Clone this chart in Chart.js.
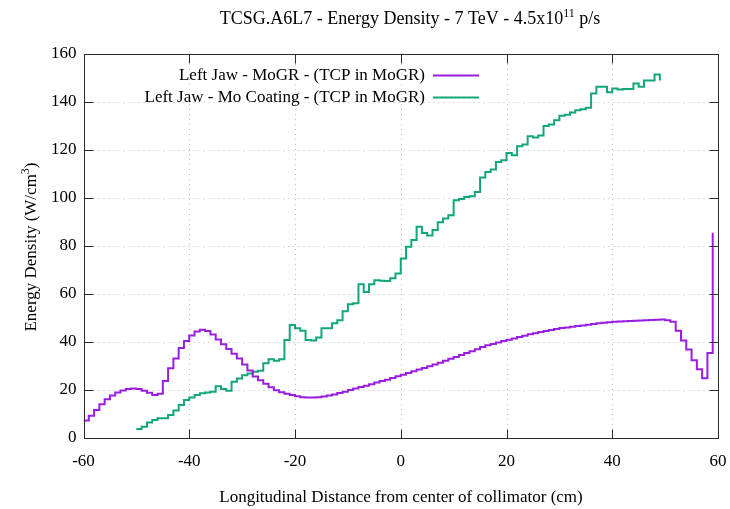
<!DOCTYPE html>
<html>
<head>
<meta charset="utf-8">
<script src="https://cdn.jsdelivr.net/npm/chart.js@4.4.0/dist/chart.umd.min.js"></script>
<style>
  html, body { margin: 0; padding: 0; background: #fff; }
</style>
</head>
<body>
<canvas id="energyChart" width="730" height="509"></canvas>
<script>
// bin start positions along the jaw (cm)
const mogrPos = [
  -60, -59, -58, -57, -56, -55, -54, -53, -52, -51,
  -50, -49, -48, -47, -46, -45, -44, -43, -42, -41,
  -40, -39, -38, -37, -36, -35, -34, -33, -32, -31,
  -30, -29, -28, -27, -26, -25, -24, -23, -22, -21,
  -20, -19, -18, -17, -16, -15, -14, -13, -12, -11,
  -10, -9, -8, -7, -6, -5, -4, -3, -2, -1,
  0, 1, 2, 3, 4, 5, 6, 7, 8, 9,
  10, 11, 12, 13, 14, 15, 16, 17, 18, 19,
  20, 21, 22, 23, 24, 25, 26, 27, 28, 29,
  30, 31, 32, 33, 34, 35, 36, 37, 38, 39,
  40, 41, 42, 43, 44, 45, 46, 47, 48, 49,
  50, 51, 52, 53, 54, 55, 56, 57, 58, 59
];
// energy density, MoGR jaw (W/cm3)
const mogrVal = [
  7.2, 9.2, 11.5, 14, 16, 17.6, 18.8, 19.7, 20.3, 20.5,
  20.3, 19.6, 18.7, 17.8, 18.3, 23.6, 29, 33, 37.4, 40.3,
  42.6, 44.3, 45, 44.5, 43, 41, 39, 37, 35, 33,
  30.5, 28, 25.5, 24, 22.5, 21, 19.8, 19, 18.3, 17.8,
  17.3, 16.9, 16.8, 16.8, 16.9, 17.2, 17.6, 18, 18.6, 19.2,
  19.9, 20.5, 21.1, 21.7, 22.3, 23, 23.6, 24.2, 24.9, 25.6,
  26.3, 27, 27.7, 28.4, 29.1, 29.8, 30.5, 31.3, 32.1, 32.9,
  33.7, 34.5, 35.3, 36.1, 36.9, 37.8, 38.5, 39.1, 39.7, 40.3,
  40.8, 41.4, 42, 42.5, 43.1, 43.6, 44.1, 44.5, 44.9, 45.3,
  45.7, 46, 46.3, 46.6, 46.8, 47.1, 47.4, 47.7, 47.9, 48.1,
  48.3, 48.5, 48.6, 48.7, 48.8, 48.9, 49, 49.1, 49.2, 49.3,
  49, 48.4, 44.6, 40.5, 36.8, 32.3, 28.5, 24.8, 35.3, 85.5
];
const coatPos = [
  -50, -49, -48, -47, -46, -45, -44, -43, -42, -41,
  -40, -39, -38, -37, -36, -35, -34, -33, -32, -31,
  -30, -29, -28, -27, -26, -25, -24, -23, -22, -21,
  -20, -19, -18, -17, -16, -15, -14, -13, -12, -11,
  -10, -9, -8, -7, -6, -5, -4, -3, -2, -1,
  0, 1, 2, 3, 4, 5, 6, 7, 8, 9,
  10, 11, 12, 13, 14, 15, 16, 17, 18, 19,
  20, 21, 22, 23, 24, 25, 26, 27, 28, 29,
  30, 31, 32, 33, 34, 35, 36, 37, 38, 39,
  40, 41, 42, 43, 44, 45, 46, 47, 48, 49
];
// energy density, Mo coating (W/cm3)
const coatVal = [
  3.6, 4.6, 6.3, 7.4, 8.1, 8.1, 9.5, 11.3, 13.6, 15.7,
  16.8, 17.8, 18.5, 18.8, 19.2, 21.5, 20.3, 19.6, 23.3, 24.7,
  26, 26.8, 27.5, 27.9, 31, 32.7, 32.1, 32.7, 40.7, 47,
  45.6, 44.6, 40.7, 40.5, 41.8, 45.6, 45.6, 47.7, 49, 52.7,
  55.6, 56.1, 64, 60.8, 64, 65.7, 65.4, 65.3, 66.5, 68.5,
  74.7, 79.6, 82.4, 88, 85.4, 84.3, 86.6, 89.8, 91.4, 92.8,
  99, 99.5, 100.4, 100.7, 102.5, 108.5, 110.8, 111.8, 115, 115.7,
  118.7, 117.8, 121.5, 122.3, 125.7, 125.2, 126, 130, 130.6, 132.4,
  134.2, 134.7, 135.6, 136.5, 137, 137.6, 143.5, 146.3, 146.3, 144.1,
  145.6, 145.2, 145.4, 145.4, 147.7, 146.3, 149, 149, 151.4, 149
];

const xTicks = [-60, -40, -20, 0, 20, 40, 60];
const yTicks = [0, 20, 40, 60, 80, 100, 120, 140, 160];
const seriesNames = [
  "Left Jaw - MoGR - (TCP in MoGR)",
  "Left Jaw - Mo Coating - (TCP in MoGR)"
];
const seriesColors = ["#9a1ee0", "#13a67b"];

const FONT = "Liberation Serif";
const canvas = document.getElementById("energyChart");

// draws a run of text pieces, some raised as superscripts
const richWidth = (c, parts, size) => {
  let w = 0;
  parts.forEach((p) => {
    c.font = (p.sup ? 12 : size) + "px " + FONT;
    w += c.measureText(p.t).width;
  });
  return w;
};
const drawRich = (c, parts, x, y, size) => {
  let cx = x;
  parts.forEach((p) => {
    c.font = (p.sup ? 12 : size) + "px " + FONT;
    c.fillText(p.t, cx, p.sup ? y - 7 : y);
    cx += c.measureText(p.t).width;
  });
};

const gnuplotLook = {
  id: "gnuplotLook",
  beforeDatasetsDraw(chart) {
    const c = chart.ctx;
    const a = chart.chartArea;
    const sx = chart.scales.x;
    const sy = chart.scales.y;
    c.save();
    c.strokeStyle = "#bdbdbd";
    c.lineWidth = 1;
    c.setLineDash([1, 4]);
    xTicks.slice(1, -1).forEach((v) => {
      const px = Math.round(sx.getPixelForValue(v)) + 0.5;
      c.beginPath();
      c.moveTo(px, a.top);
      c.lineTo(px, a.bottom);
      c.stroke();
    });
    yTicks.slice(1, -1).forEach((v) => {
      const py = Math.round(sy.getPixelForValue(v)) + 0.5;
      c.beginPath();
      c.moveTo(a.left, py);
      c.lineTo(a.right, py);
      c.stroke();
    });
    c.restore();
  },
  afterDatasetsDraw(chart) {
    const c = chart.ctx;
    const a = chart.chartArea;
    const sx = chart.scales.x;
    const sy = chart.scales.y;
    const L = Math.round(a.left) + 0.5;
    const R = Math.round(a.right) + 0.5;
    const T = Math.round(a.top) + 0.5;
    const B = Math.round(a.bottom) + 0.5;
    c.save();
    // frame and inward tick marks on all four sides
    c.strokeStyle = "#2b2b2b";
    c.lineWidth = 1;
    c.strokeRect(L, T, R - L, B - T);
    c.beginPath();
    xTicks.forEach((v) => {
      const px = Math.round(sx.getPixelForValue(v)) + 0.5;
      c.moveTo(px, B);
      c.lineTo(px, B - 9);
      c.moveTo(px, T);
      c.lineTo(px, T + 9);
    });
    yTicks.forEach((v) => {
      const py = Math.round(sy.getPixelForValue(v)) + 0.5;
      c.moveTo(L, py);
      c.lineTo(L + 9, py);
      c.moveTo(R, py);
      c.lineTo(R - 9, py);
    });
    c.stroke();

    // key, text right-aligned with the sample line after it
    c.font = "17px " + FONT;
    c.fillStyle = "#000";
    c.textAlign = "right";
    c.textBaseline = "middle";
    const keyRows = [76, 98];
    seriesNames.forEach((name, i) => {
      c.fillText(name, 425, keyRows[i]);
      c.strokeStyle = seriesColors[i];
      c.lineWidth = 2;
      c.beginPath();
      c.moveTo(433, keyRows[i] - 0.5);
      c.lineTo(479, keyRows[i] - 0.5);
      c.stroke();
    });
    c.restore();
  },
  afterDraw(chart) {
    const c = chart.ctx;
    c.save();
    c.fillStyle = "#000";
    c.textAlign = "left";
    c.textBaseline = "alphabetic";

    const title = [
      { t: "TCSG.A6L7 - Energy Density - 7 TeV - 4.5x10" },
      { t: "11", sup: true },
      { t: " p/s" }
    ];
    const tw = richWidth(c, title, 18);
    drawRich(c, title, 410 - tw / 2, 24, 18);

    c.font = "17px " + FONT;
    c.textAlign = "center";
    c.fillText("Longitudinal Distance from center of collimator (cm)", 401, 502);

    c.textAlign = "left";
    const yTitle = [
      { t: "Energy Density (W/cm" },
      { t: "3", sup: true },
      { t: ")" }
    ];
    const yw = richWidth(c, yTitle, 17);
    c.translate(36, 247);
    c.rotate(-Math.PI / 2);
    drawRich(c, yTitle, -yw / 2, 0, 17);
    c.restore();
  }
};

const energyChart = new Chart(canvas, {
  type: "line",
  data: {
    datasets: [
      {
        label: seriesNames[0],
        data: mogrPos.map((x, i) => ({ x: x, y: mogrVal[i] })),
        borderColor: seriesColors[0],
        borderWidth: 2,
        stepped: true,
        pointRadius: 0,
        fill: false,
      },
      {
        label: seriesNames[1],
        data: coatPos.map((x, i) => ({ x: x, y: coatVal[i] })),
        borderColor: seriesColors[1],
        borderWidth: 2,
        stepped: true,
        pointRadius: 0,
        fill: false,
      },
    ],
  },
  options: {
    responsive: false,
    animation: false,
    devicePixelRatio: 1,
    layout: { padding: { left: 0, right: 12, top: 54, bottom: 0 } },
    plugins: {
      legend: { display: false },
      title: { display: false },
      tooltip: { enabled: false },
    },
    scales: {
      x: {
        type: "linear",
        min: -60,
        max: 60,
        afterBuildTicks: (s) => {
          s.ticks = xTicks.map((v) => ({ value: v }));
        },
        afterFit: (s) => {
          s.height = 71.3;
          s.paddingLeft = 0;
          s.paddingRight = 0;
        },
        grid: { display: false, drawTicks: false },
        border: { display: false },
        ticks: {
          color: "#000",
          font: { family: FONT, size: 17 },
          padding: 14,
          maxRotation: 0,
          autoSkip: false,
        },
      },
      y: {
        type: "linear",
        min: 0,
        max: 160,
        afterBuildTicks: (s) => {
          s.ticks = yTicks.map((v) => ({ value: v }));
        },
        afterFit: (s) => {
          s.width = 83.5;
          s.paddingTop = 0;
          s.paddingBottom = 0;
        },
        grid: { display: false, drawTicks: false },
        border: { display: false },
        ticks: {
          color: "#000",
          font: { family: FONT, size: 17 },
          padding: 7,
          autoSkip: false,
        },
      },
    },
  },
  plugins: [gnuplotLook],
});
</script>
</body>
</html>
